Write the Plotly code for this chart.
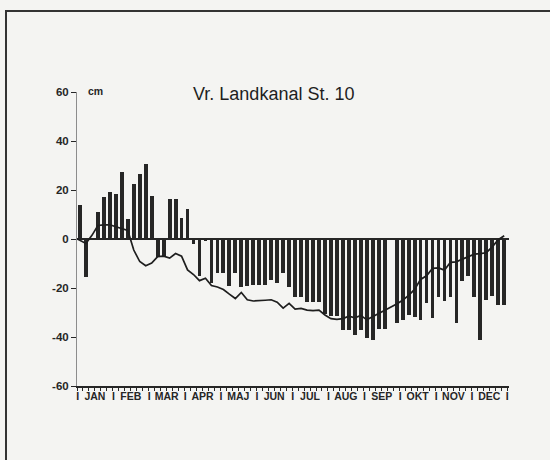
import plotly.graph_objects as go

# ---- data ----
pentad = list(range(72))
bar_values = [14, -15.4, None, 11.2, 17, 19.3, 18.2, 27.3, 8.2, 22.3, 26.4, 30.5,
              17.4, -7.5, -7, 16.5, 16.5, 8.4, 12.4, -2, -15.1, -1, -18.1, -14,
              -14, -19.2, -14, -19.7, -19, -18.9, -18.9, -18.9, -16.7, -17.8, -13.8, -19.5,
              -23.5, -23.5, -25.6, -25.6, -25.6, -30.5, -31.3, -31.3, -37.2, -37.2, -39.2, -37.2,
              -40.4, -41.2, -36.9, -36.9, None, -34.2, -33, -31, -32, -33, -26.3, -32.4,
              -23.5, -25.4, -23.5, -34.2, -17.2, -15.2, -23.5, -41.1, -24.9, -23.1, -27.1, -27.1]
line_x = [-0.45] + list(range(72))
line_values = [0, -0.5, -1.8, 1.5, 5.5, 5.8, 5.8, 5.0, 4.4, 3.5, -4.5, -9.2, -10.9,
               -9.8, -7.2, -7.0, -7.8, -5.9, -7.0, -12.6, -14.5, -17.0, -16.0, -19.0, -19.6,
               -20.6, -22.5, -24.3, -21.8, -24.8, -25.3, -25.3, -25.0, -24.8, -25.8, -28.2, -26.3,
               -28.6, -28.3, -29.0, -29.2, -29.0, -31.0, -32.5, -32.8, -32.5, -31.5, -32.2, -31.2,
               -33.0, -31.7, -30.3, -29.2, -28.0, -26.5, -25.0, -23.0, -20.6, -16.5, -15.0, -12.0,
               -11.8, -12.7, -9.5, -9.3, -8.2, -7.2, -6.2, -6.0, -5.6, -3.2, -0.3, 1.3]
months = ["JAN", "FEB", "MAR", "APR", "MAJ", "JUN", "JUL", "AUG", "SEP", "OKT", "NOV", "DEC"]
y_ticks = [60, 40, 20, 0, -20, -40, -60]
y_ticklabels = ["60", "40", "20", "0", "-20", "-40", "-60"]
title_text = "Vr. Landkanal St. 10"
unit_text = "cm"

# ---- layout constants ----
W, H = 550, 460
L, R, T, B = 77, 41, 92, 74
PW, PH = W - L - R, H - T - B
INK = "#262626"
BG = "#f4f4f2"
FONT = "Liberation Sans, Arial, sans-serif"

def px_x(p):
    return (p - L) / PW

def px_y(p):
    return (H - B - p) / PH

# month axis labels: separators "I" at month boundaries, names at centres
tickvals, ticktext = [], []
for m, name in enumerate(months):
    tickvals += [6 * m - 0.4, 6 * m + 2.5]
    ticktext += ["I", name]
tickvals.append(6 * len(months) - 0.5)
ticktext.append("I")

fig = go.Figure()
fig.add_trace(go.Bar(x=pentad, y=bar_values, width=0.64,
                     marker=dict(color=INK, line=dict(width=0)), showlegend=False))
fig.add_trace(go.Scatter(x=line_x, y=line_values, mode="lines",
                         line=dict(color="#1e1e1e", width=1.7), showlegend=False))

fig.update_layout(
    width=W, height=H,
    margin=dict(l=L, r=R, t=T, b=B, pad=0, autoexpand=False),
    paper_bgcolor=BG, plot_bgcolor=BG,
    font=dict(family=FONT, color=INK),
    bargap=0,
    xaxis=dict(range=[-0.5, 71.8], showgrid=False, zeroline=False, automargin=False,
               showline=True, linecolor=INK, linewidth=1.5,
               tickmode="array", tickvals=tickvals, ticktext=ticktext, ticks="",
               tickfont=dict(size=10.5, family=FONT, color=INK, weight="bold"),
               minor=dict(ticks="outside", tick0=-0.5, dtick=1, ticklen=3,
                          tickcolor=INK, tickwidth=1, showgrid=False)),
    yaxis=dict(range=[-60, 60], showgrid=False, automargin=False,
               zeroline=True, zerolinecolor=INK, zerolinewidth=1.6,
               showline=True, linecolor="#8c8c8c", linewidth=1,
               tickmode="array", tickvals=y_ticks, ticktext=y_ticklabels,
               ticks="outside", ticklen=5, tickcolor=INK, tickwidth=1,
               tickfont=dict(size=11.5, family=FONT, color=INK, weight="bold")),
    annotations=[
        dict(text=title_text, x=px_x(273), y=px_y(94), xref="paper", yref="paper",
             xanchor="center", yanchor="middle", showarrow=False,
             font=dict(size=18, family=FONT, color="#1e1e1e")),
        dict(text=unit_text, x=px_x(86), y=px_y(91), xref="paper", yref="paper",
             xanchor="left", yanchor="middle", showarrow=False,
             font=dict(size=10.5, family=FONT, color=INK, weight="bold")),
    ],
    shapes=[
        dict(type="line", xref="paper", yref="paper", x0=px_x(6), x1=px_x(6),
             y0=px_y(11), y1=px_y(470), line=dict(color="#333333", width=2)),
        dict(type="line", xref="paper", yref="paper", x0=px_x(5), x1=px_x(560),
             y0=px_y(11), y1=px_y(11), line=dict(color="#333333", width=2)),
    ],
)

fig.write_html("out.html", config={"displayModeBar": False},
               post_script="document.body.style.margin='0';document.body.style.overflow='hidden';")
